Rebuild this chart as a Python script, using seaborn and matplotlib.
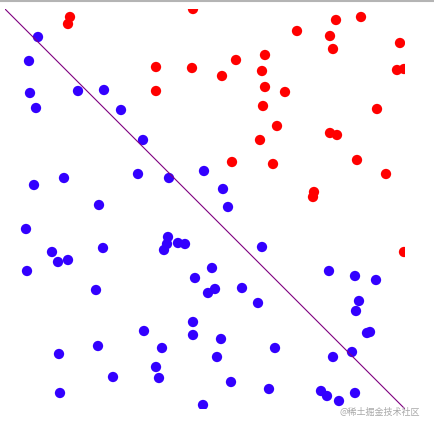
import pandas as pd
import matplotlib.pyplot as plt
import seaborn as sns
from matplotlib.lines import Line2D

# ==============================================
# DATOS (unidades 0..1)
# ==============================================
red_x = [0.1625, 0.1575, 0.47, 0.3775, 0.4675, 0.3775, 0.8275, 0.89, 0.73, 0.8125,
         0.82, 0.9875, 0.5775, 0.65, 0.6425, 0.5425, 0.98, 0.9975, 0.65, 0.70,
         0.645, 0.93, 0.68, 0.6375, 0.8125, 0.83, 0.5675, 0.67, 0.88, 0.9525,
         0.7725, 0.77, 0.9975]
red_y = [0.98, 0.9625, 1.0, 0.855, 0.8525, 0.795, 0.9725, 0.98, 0.945, 0.9325,
         0.90, 0.915, 0.8725, 0.885, 0.845, 0.8325, 0.8475, 0.85, 0.805, 0.7925,
         0.7575, 0.75, 0.7075, 0.6725, 0.69, 0.685, 0.6175, 0.6125, 0.6225, 0.5875,
         0.5425, 0.53, 0.3925]

blue_x = [0.0825, 0.06, 0.0625, 0.0775, 0.1825, 0.2475, 0.29, 0.345, 0.3325, 0.41,
          0.4975, 0.0725, 0.1475, 0.235, 0.545, 0.5575, 0.0525, 0.1175, 0.1325, 0.1575,
          0.055, 0.245, 0.2275, 0.4075, 0.405, 0.3975, 0.4325, 0.45, 0.5175, 0.475,
          0.5075, 0.525, 0.47, 0.47, 0.3475, 0.3925, 0.3775, 0.385, 0.2325, 0.135,
          0.27, 0.1375, 0.495, 0.53, 0.6425, 0.81, 0.875, 0.9275, 0.5925, 0.6325,
          0.885, 0.8775, 0.905, 0.9125, 0.54, 0.675, 0.82, 0.8675, 0.565, 0.66,
          0.79, 0.805, 0.835, 0.875]
blue_y = [0.93, 0.87, 0.79, 0.7525, 0.795, 0.7975, 0.7475, 0.6725, 0.5875, 0.5775,
          0.595, 0.56, 0.5775, 0.51, 0.55, 0.505, 0.45, 0.3925, 0.3675, 0.3725,
          0.345, 0.4025, 0.2975, 0.43, 0.4125, 0.3975, 0.415, 0.4125, 0.3525, 0.3275,
          0.29, 0.30, 0.2175, 0.185, 0.195, 0.1525, 0.105, 0.0775, 0.1575, 0.1375,
          0.08, 0.04, 0.01, 0.13, 0.405, 0.345, 0.3325, 0.3225, 0.3025, 0.265,
          0.27, 0.245, 0.19, 0.1925, 0.175, 0.1525, 0.13, 0.1425, 0.0675, 0.05,
          0.045, 0.0325, 0.02, 0.04]

# recta de decision x + y = 1
line_x = [0, 1]
line_y = [1, 0]

df = pd.DataFrame({
    'x': red_x + blue_x,
    'y': red_y + blue_y,
    'clase': ['rojo'] * len(red_x) + ['azul'] * len(blue_x),
})

# ==============================================
# GRAFICO
# ==============================================
sns.set_style('white')
plt.rcParams['font.family'] = ['Noto Sans CJK SC', 'DejaVu Sans']

fig = plt.figure(figsize=(4.34, 4.29), dpi=100)
ax = fig.add_axes([5 / 434, 20 / 429, 400 / 434, 400 / 429])

sns.scatterplot(data=df, x='x', y='y', hue='clase',
                palette={'rojo': '#ff0000', 'azul': '#3300ff'},
                s=55, linewidth=0, legend=False, ax=ax)
ax.plot(line_x, line_y, color='#800080', lw=0.8)

ax.set_xlim(0, 1)
ax.set_ylim(0, 1)
ax.set_axis_off()

# borde gris superior
fig.add_artist(Line2D([0, 1], [0.998, 0.998], color='#b4b4b4', lw=1.5,
                      transform=fig.transFigure))

fig.text(340 / 434, (429 - 412) / 429, '@稀土掘金技术社区', fontsize=6.5,
         color='#a8a8a8', va='center', ha='left')

fig.savefig('out.png', dpi=100)
